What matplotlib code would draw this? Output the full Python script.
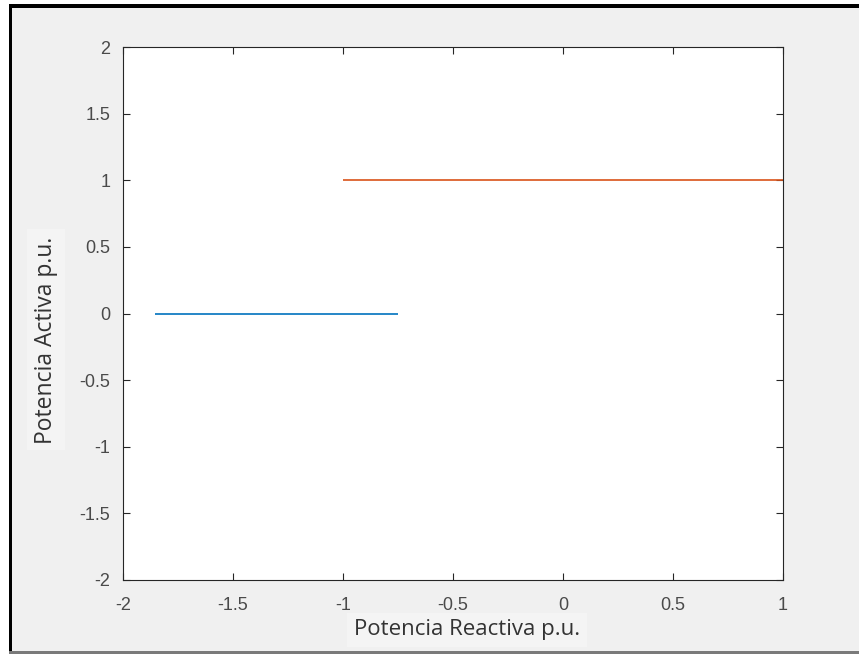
import matplotlib
matplotlib.use("Agg")
import matplotlib.pyplot as plt
from matplotlib.patches import Rectangle

# Data
reactiva_azul = [-1.855, -0.75]
activa_azul = [0, 0]
reactiva_naranja = [-1.0, 1.0]
activa_naranja = [1, 1]
xticks = [-2, -1.5, -1, -0.5, 0, 0.5, 1]
yticks = [-2, -1.5, -1, -0.5, 0, 0.5, 1, 1.5, 2]
xlabel = "Potencia Reactiva p.u."
ylabel = "Potencia Activa p.u."

W, H = 859, 654
fig = plt.figure(figsize=(W/100, H/100), dpi=100, facecolor="#f0f0f0")

def fx(px): return px / W
def fy(py): return 1 - py / H

ax = fig.add_axes([fx(123), fy(580), fx(783) - fx(123), fy(47) - fy(580)])
ax.set_facecolor("white")
ax.plot(reactiva_azul, activa_azul, color="#0072BD", lw=1.2, solid_capstyle="butt")
ax.plot(reactiva_naranja, activa_naranja, color="#D95319", lw=1.2, solid_capstyle="butt", clip_on=False)
ax.set_xlim(-2, 1)
ax.set_ylim(-2, 2)
ax.set_xticks(xticks)
ax.set_yticks(yticks)
ax.set_xticklabels([f"{t:g}" for t in xticks])
ax.set_yticklabels([f"{t:g}" for t in yticks])
for s in ax.spines.values():
    s.set_color("#262626")
    s.set_linewidth(0.8)
ax.tick_params(direction="in", top=True, right=True, length=5, width=0.8,
               color="#262626", labelcolor="#4a4a4a", labelsize=13)
ax.tick_params(axis="x", pad=12)
ax.tick_params(axis="y", pad=9)
for lab in ax.get_xticklabels() + ax.get_yticklabels():
    lab.set_family("Liberation Sans")

# labels with light boxes (as in the reference)
fig.text(fx(467), fy(630), xlabel, ha="center", va="center", fontsize=16,
         family="Open Sans", color="#333333", zorder=5,
         bbox=dict(boxstyle="square,pad=0.3", fc="#f4f4f4", ec="none"))
fig.text(fx(46), fy(340), ylabel, ha="center", va="center", rotation=90,
         fontsize=16.5, family="Open Sans", color="#333333", zorder=5,
         bbox=dict(boxstyle="square,pad=0.3", fc="#f4f4f4", ec="none"))

# screenshot frame
fig.patches.append(Rectangle((fx(9), 0), fx(3), fy(4), transform=fig.transFigure,
                             fc="black", ec="none", zorder=10))
fig.patches.append(Rectangle((fx(9), fy(8)), 1 - fx(9), fy(4) - fy(8), transform=fig.transFigure,
                             fc="black", ec="none", zorder=10))
fig.patches.append(Rectangle((fx(9), 0), 1 - fx(9), fy(651), transform=fig.transFigure,
                             fc="#7a7a7a", ec="none", zorder=10))
fig.patches.append(Rectangle((0, 0), fx(9), 1, transform=fig.transFigure,
                             fc="white", ec="none", zorder=10))
fig.patches.append(Rectangle((0, fy(4)), 1, 1 - fy(4), transform=fig.transFigure,
                             fc="white", ec="none", zorder=10))

fig.savefig("out.png", dpi=100, facecolor=fig.get_facecolor())
